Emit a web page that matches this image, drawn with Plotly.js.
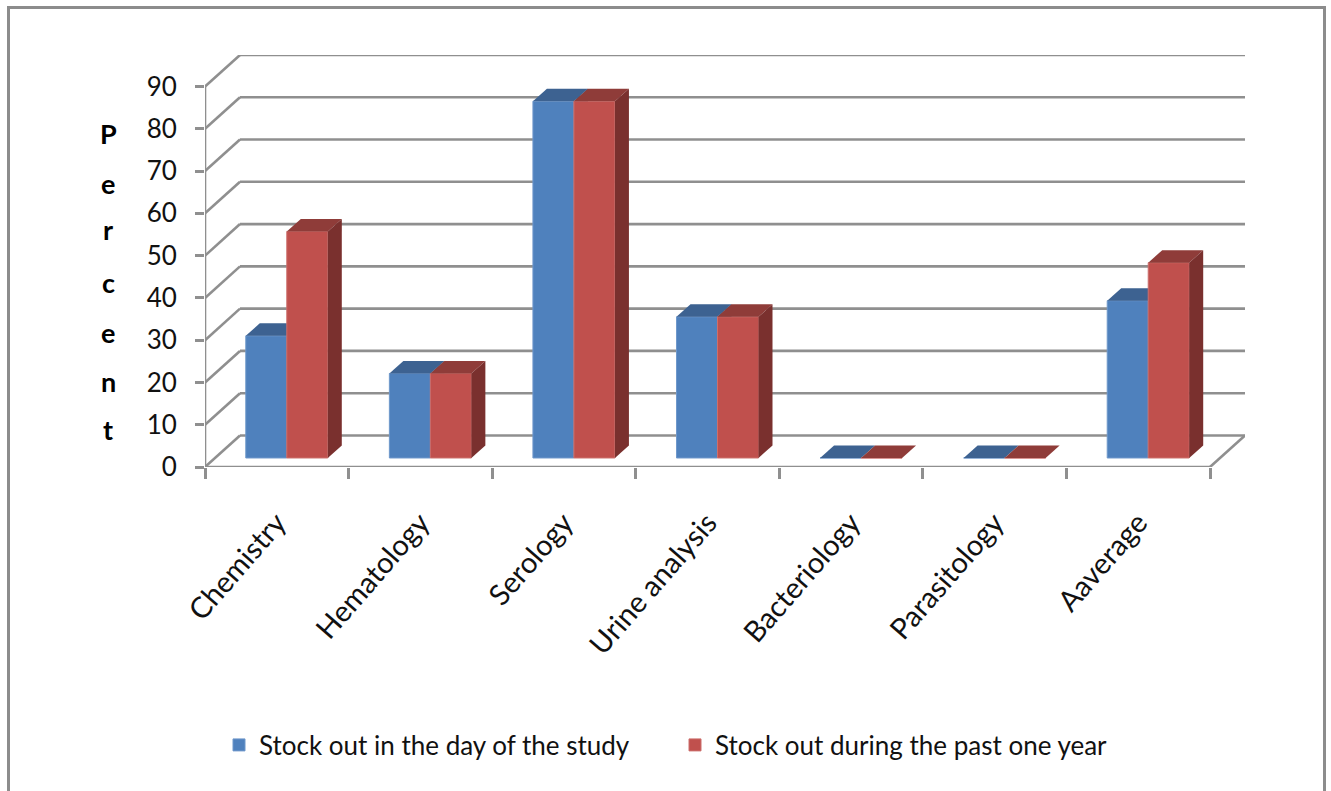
<!DOCTYPE html>
<html>
<head>
<meta charset="utf-8">
<script src="https://cdn.plot.ly/plotly-3.0.1.min.js"></script>
<style>html,body{margin:0;padding:0;background:#fff}</style>
</head>
<body>
<div id="chart" style="width:1331px;height:791px"></div>
<script>
const categories = ["Chemistry", "Hematology", "Serology", "Urine analysis", "Bacteriology", "Parasitology", "Aaverage"];
const dayOfStudy = [28.9, 20, 84.4, 33.4, 0, 0, 37.2];
const pastYear = [53.6, 20, 84.4, 33.4, 0, 0, 46.2];
const seriesNames = ["Stock out in the day of the study", "Stock out during the past one year"];
const percentTicks = [0, 10, 20, 30, 40, 50, 60, 70, 80, 90];
const axisTitleLetters = ["P", "e", "r", "c", "e", "n", "t"];

// Pixel frame of the front floor edge and the value scale
const left = 205, right = 1210, zeroY = 467, topY = 87;
const pxPerCat = (right - left) / categories.length;
const pxPerUnit = (zeroY - topY) / 90;

// Oblique projection: wall depth and bar depth, as offsets in data units
const wallDx = 35 / pxPerCat, wallDy = 31.5 / pxPerUnit;
const barShiftX = 10 / pxPerCat, barShiftY = 9 / pxPerUnit;
const barDepthX = 14 / pxPerCat, barDepthY = 12.5 / pxPerUnit;
const barWidth = 41 / pxPerCat;

const xMax = categories.length + wallDx, yMax = 90 + wallDy;
const centres = categories.map((_, i) => i + 0.5);
const grey = "#8f8f8f";
const inkBlack = "#111111";

function line(x0, y0, x1, y1) {
  return {type: "line", layer: "below", xref: "x", yref: "y", x0, y0, x1, y1,
          line: {color: grey, width: 2.6}};
}

// Back-wall gridlines with their slanted returns toward the front axis
const shapes = [];
percentTicks.forEach(v => {
  shapes.push(line(0, v, wallDx, v + wallDy));
  shapes.push(line(wallDx, v + wallDy, xMax, v + wallDy));
});
shapes.push(line(0, 0, 0, 90));
shapes.push(line(0, 0, categories.length, 0));
shapes.push(line(categories.length, 0, xMax, wallDy));

// Outer chart border, open past the bottom of the page
shapes.push({type: "rect", layer: "below", xref: "paper", yref: "paper",
  x0: (8.5 - left) / 1040, x1: (1324.5 - left) / 1040,
  y0: (zeroY - 800) / (zeroY - 55), y1: (zeroY - 7.5) / (zeroY - 55),
  line: {color: "#8c8c8c", width: 3}, fillcolor: "rgba(0,0,0,0)"});

// Top and side faces of each bar as filled polygons derived from its value
function faces(values, xStart, topColor, sideColor, xa, ya) {
  const out = [];
  values.forEach((v, i) => {
    const x0 = i + 0.5 + xStart, x1 = x0 + barWidth, b = barShiftY, t = v + barShiftY;
    out.push({type: "scatter", mode: "lines", xaxis: xa, yaxis: ya, fill: "toself",
      x: [x0, x1, x1 + barDepthX, x0 + barDepthX, x0],
      y: [t, t, t + barDepthY, t + barDepthY, t],
      line: {width: 0, color: topColor}, fillcolor: topColor,
      showlegend: false, hoverinfo: "skip"});
    if (v > 0) out.push({type: "scatter", mode: "lines", xaxis: xa, yaxis: ya, fill: "toself",
      x: [x1, x1 + barDepthX, x1 + barDepthX, x1, x1],
      y: [b, b + barDepthY, t + barDepthY, t, b],
      line: {width: 0, color: sideColor}, fillcolor: sideColor,
      showlegend: false, hoverinfo: "skip"});
  });
  return out;
}

function frontBars(name, values, xStart, color, edge, xa, ya) {
  return {type: "bar", name, x: centres, y: values, base: barShiftY, offset: xStart, width: barWidth,
    xaxis: xa, yaxis: ya, marker: {color, line: {width: 1, color: edge}},
    hovertemplate: "%{text}: %{customdata}<extra></extra>", text: categories, textposition: "none",
    customdata: values};
}

const traces = [
  frontBars(seriesNames[0], dayOfStudy, barShiftX - barWidth, "#4f81bd", "#6f98cb", "x", "y"),
  ...faces(dayOfStudy, barShiftX - barWidth, "#3d6291", "#345379", "x", "y"),
  frontBars(seriesNames[1], pastYear, barShiftX, "#c0504d", "#cc6f6c", "x2", "y2"),
  ...faces(pastYear, barShiftX, "#8f3c39", "#7a302e", "x2", "y2")
];

const letterYs = [133, 183, 229, 282, 333, 381, 429];
const annotations = axisTitleLetters.map((ch, i) => ({
  text: ch, showarrow: false, xref: "paper", yref: "paper",
  x: (108 - left) / 1040, y: (zeroY - letterYs[i]) / (zeroY - 55),
  xanchor: "center", yanchor: "middle",
  font: {family: "Lato, sans-serif", size: 27, color: "#000", weight: 700}
}));

const layout = {
  width: 1331, height: 791, autosize: false,
  paper_bgcolor: "#fff", plot_bgcolor: "rgba(0,0,0,0)",
  margin: {l: left, r: 1331 - 1245, t: 55, b: 791 - zeroY, pad: 0},
  barmode: "overlay", shapes, annotations,
  font: {family: "Lato, sans-serif", color: inkBlack},
  xaxis: {
    type: "linear", range: [0, xMax], tickmode: "array", tickvals: centres, ticktext: categories,
    tickangle: -49, ticks: "", ticklabelstandoff: 32, showgrid: false, zeroline: false, showline: false,
    tickfont: {size: 29, color: inkBlack},
    minor: {tickmode: "array", tickvals: categories.map((_, i) => i).concat(categories.length),
            ticks: "outside", ticklen: 11, tickwidth: 2.5, tickcolor: grey, showgrid: false}
  },
  yaxis: {
    range: [0, yMax], tickmode: "array", tickvals: percentTicks, ticks: "outside", ticklen: 9, tickwidth: 2.5,
    tickcolor: grey, ticklabelstandoff: 13, showgrid: false, zeroline: false, showline: false,
    tickfont: {size: 26, color: inkBlack}
  },
  xaxis2: {overlaying: "x", matches: "x", visible: false},
  yaxis2: {overlaying: "y", matches: "y", visible: false},
  showlegend: true,
  legend: {orientation: "h", xref: "paper", yref: "paper", x: (219 - left) / 1040, xanchor: "left",
    y: (zeroY - 745) / (zeroY - 55), yanchor: "middle", entrywidth: 411, entrywidthmode: "pixels",
    font: {size: 26, color: inkBlack}, bgcolor: "rgba(0,0,0,0)"}
};

Plotly.newPlot("chart", traces, layout, {displayModeBar: false, responsive: false});
</script>
</body>
</html>
